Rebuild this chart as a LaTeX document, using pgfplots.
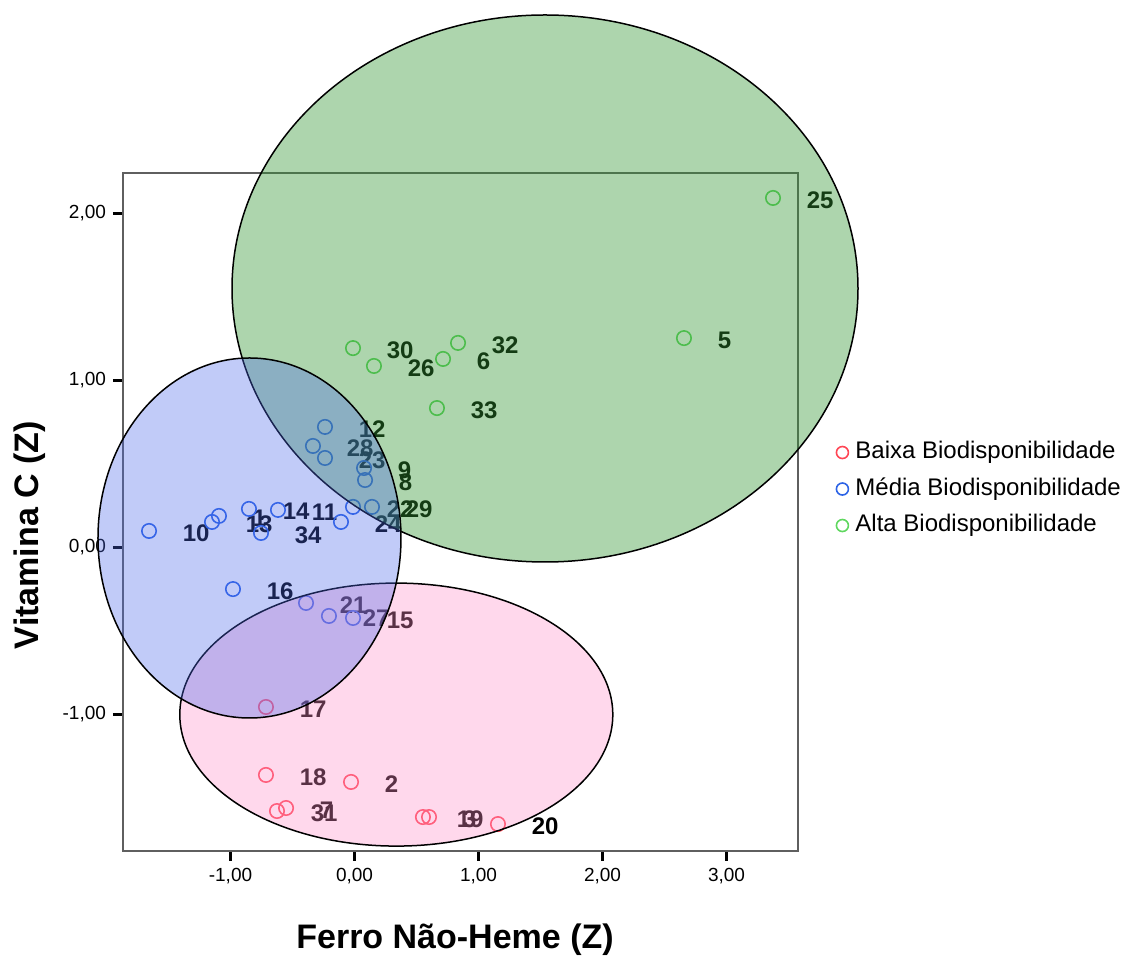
\documentclass[border=0pt]{standalone}
\usepackage{pgfplots}
\pgfplotsset{compat=1.18}
\usepackage{pgfplotstable}
\usepackage{fontspec}
\setmainfont{Liberation Sans}

\definecolor{ptRed}{RGB}{255,70,85}
\definecolor{ptBlue}{RGB}{45,100,230}
\definecolor{ptGreen}{RGB}{95,215,95}
\definecolor{fillGreen}{RGB}{50,150,50}
\definecolor{fillBlue}{RGB}{74,103,235}
\definecolor{fillPink}{RGB}{255,143,200}
\definecolor{frameGray}{RGB}{95,95,95}

% Z-scores: Ferro Nao-Heme (x) and Vitamina C (y), with case number
\pgfplotstableread{
x      y      id
-0.714 -0.955 17
-0.714 -1.362 18
-0.028 -1.404 2
-0.625 -1.578 31
-0.552 -1.560 7
 0.552 -1.614 19
 0.601 -1.614 3
 1.157 -1.656 20
}\baixa

\pgfplotstableread{
x      y      id
-1.657  0.099 10
-1.149  0.153 13
-1.093  0.189 1
-0.851  0.231 14
-0.617  0.225 11
-0.754  0.087 34
-0.238  0.722 12
-0.335  0.608 28
-0.238  0.536 23
 0.077  0.476 9
 0.085  0.404 8
-0.012  0.243 22
 0.141  0.243 29
-0.109  0.153 24
-0.980 -0.249 16
-0.391 -0.332 21
-0.206 -0.410 27
-0.012 -0.422 15
}\media

\pgfplotstableread{
x      y      id
 3.375  2.093 25
 2.657  1.254 5
 0.835  1.225 32
 0.714  1.129 6
-0.012  1.194 30
 0.157  1.087 26
 0.665  0.835 33
}\alta

\begin{document}
\begin{tikzpicture}
\begin{axis}[
  set layers,
  scale only axis,
  width=337.5pt, height=339pt,
  xmin=-1.8669, xmax=3.5766,
  ymin=-1.8174, ymax=2.2425,
  clip=false,
  axis line style={draw=frameGray, line width=1pt},
  xtick={-1,0,1,2,3},
  ytick={-1,0,1,2},
  xtick pos=bottom, ytick pos=left,
  tick align=outside,
  major tick length=5pt,
  every tick/.style={black, line width=1.3pt},
  xticklabel style={font=\fontsize{9.5}{11}\selectfont,
    /pgf/number format/fixed, /pgf/number format/fixed zerofill,
    /pgf/number format/precision=2, /pgf/number format/use comma,
    /pgf/number format/assume math mode=true},
  yticklabel style={font=\fontsize{9.5}{11}\selectfont,
    /pgf/number format/fixed, /pgf/number format/fixed zerofill,
    /pgf/number format/precision=2, /pgf/number format/use comma,
    /pgf/number format/assume math mode=true},
  xlabel={Ferro Não-Heme (Z)},
  ylabel={Vitamina C (Z)},
  xlabel style={font=\bfseries\fontsize{17}{20}\selectfont, at={(axis description cs:0.4919,-0.1313)}, anchor=center},
  ylabel style={font=\bfseries\fontsize{17}{20}\selectfont, at={(axis description cs:-0.1378,0.466)}, anchor=center},
  legend style={draw=none, fill=none, inner sep=0pt,
    at={(axis description cs:1.0563,0.606)}, anchor=north west,
    font=\fontsize{12}{14}\selectfont,
    nodes={inner sep=0pt, text height=9pt, text depth=3pt},
    row sep=6.25pt,
    /tikz/every odd column/.append style={column sep=3.5pt}},
  legend cell align=left,
  legend image code/.code={\draw[#1, mark size=3pt] plot coordinates {(3pt,0pt)};},
  every node near coord/.append style={anchor=west, xshift=16.5pt, yshift=-1pt,
    inner sep=0pt, text=black, font=\bfseries\fontsize{12}{14}\selectfont},
]
\addplot[only marks, mark=o, color=ptRed, mark size=3.6pt, line width=0.8pt,
  nodes near coords, point meta=explicit symbolic]
  table[x=x, y=y, meta=id]{\baixa};
\addlegendentry{Baixa Biodisponibilidade}
\addplot[only marks, mark=o, color=ptBlue, mark size=3.6pt, line width=0.8pt,
  nodes near coords, point meta=explicit symbolic]
  table[x=x, y=y, meta=id]{\media};
\addlegendentry{Média Biodisponibilidade}
\addplot[only marks, mark=o, color=ptGreen, mark size=3.6pt, line width=0.8pt,
  nodes near coords, point meta=explicit symbolic]
  table[x=x, y=y, meta=id]{\alta};
\addlegendentry{Alta Biodisponibilidade}

% translucent group ellipses laid over the points, labels and frame
\begin{pgfonlayer}{axis foreground}
\draw[black, line width=0.75pt, fill=fillGreen, fill opacity=0.4]
  (axis cs:1.5363,1.5509) ellipse [x radius=156.5pt, y radius=136.75pt];
\draw[black, line width=0.75pt, fill=fillPink, fill opacity=0.35]
  (axis cs:0.3371,-1.0006) ellipse [x radius=108.25pt, y radius=65.75pt];
\draw[black, line width=0.75pt, fill=fillBlue, fill opacity=0.34]
  (axis cs:-0.8468,0.0569) ellipse [x radius=75.75pt, y radius=90pt];
\end{pgfonlayer}
\end{axis}
\pgfresetboundingbox
\useasboundingbox (-61.5pt,-54pt) rectangle (504pt,425.5pt);
\end{tikzpicture}
\end{document}
